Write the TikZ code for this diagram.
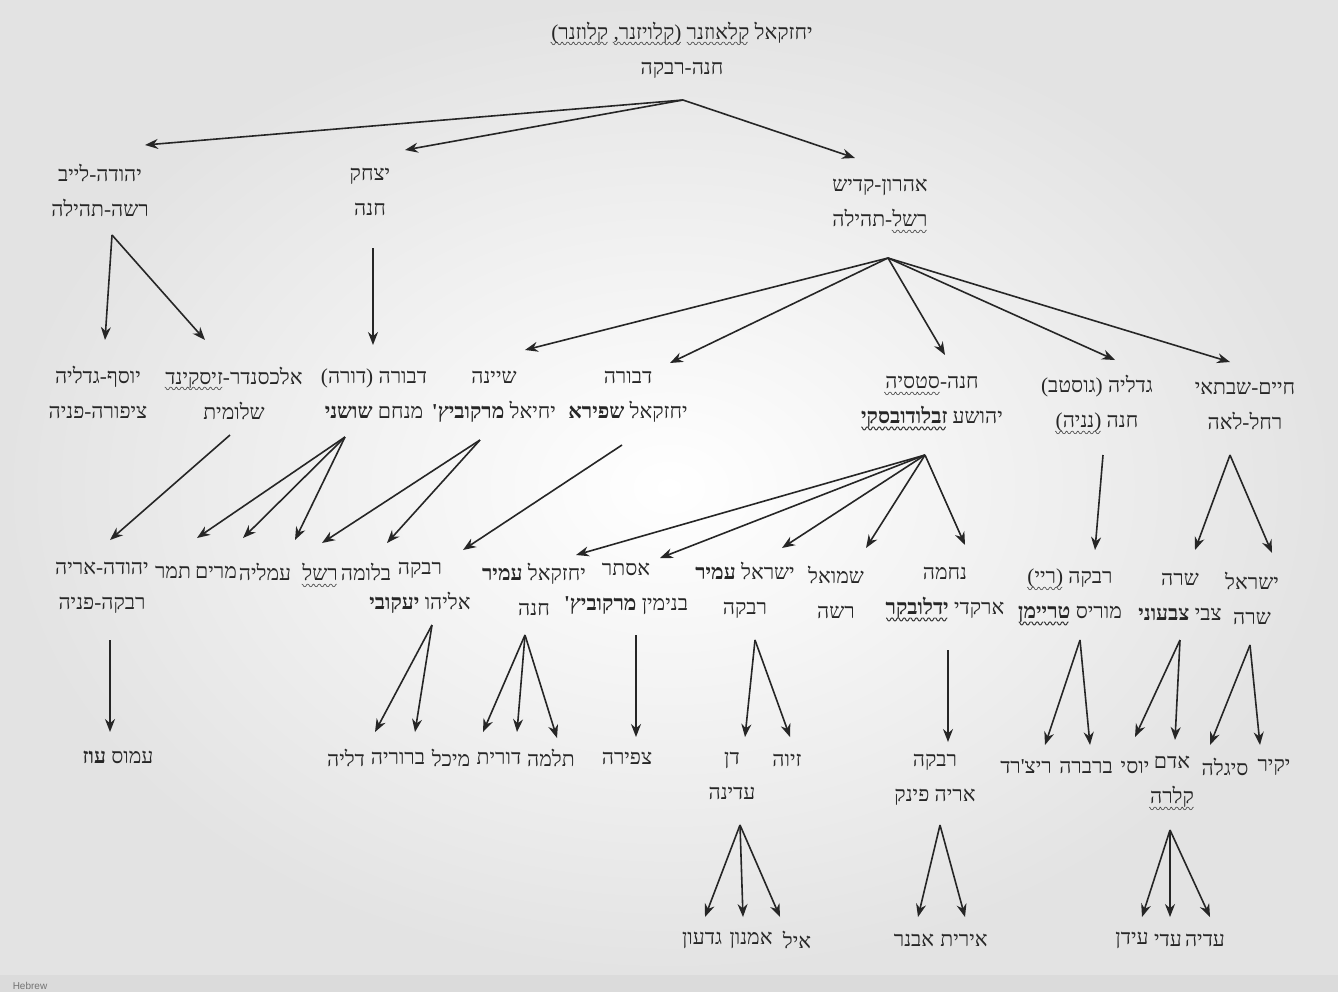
\documentclass[tikz,border=0pt]{standalone}
\usepackage{fontspec}
\usetikzlibrary{arrows.meta}
\TeXXeTstate=1
\newfontfamily\hebfont[Script=Hebrew]{Liberation Serif}
\newfontfamily\uisans{Liberation Sans}
\newfontfamily\wavefont{Noto Sans CJK SC}
\newcommand\sq[1]{\leavevmode\setbox0\hbox{#1}\setbox2\vtop{\offinterlineskip\copy0\vskip-\dp0\vskip4.9pt\hbox to\wd0{\color{red!75!black}\wavefont\fontsize{6}{6}\selectfont\xleaders\hbox{\smash{〰}\kern-0.6pt}\hfill}}\dp2=\dp0\relax\box2\relax}
\newcommand\link[4]{\draw[arr] ([shift={#2}]#1.center) -- ([shift={#4}]#3.center);}
\tikzset{
  every node/.style={font=\hebfont\fontsize{10.6}{17.5}\selectfont, align=center, inner sep=0pt, text=black!85},
  arr/.style={line width=0.8pt, black!85, -{Stealth[length=6.5pt,width=5pt]}}
}
\begin{document}
\begin{tikzpicture}[x=0.5pt,y=-0.5pt]
\useasboundingbox (0,0) rectangle (1338,992);
\fill[gray!22] (0,0) rectangle (1338,992);
\shade[inner color=white, outer color=gray!22] (0,0) rectangle (1338,975);
\fill[gray!28] (0,975) rectangle (1338,992);
\node[font=\uisans\fontsize{5}{6}\selectfont, text=black!55] (status) at (30,986) {Hebrew};

% level 0
\node (R) at (682,50) {\beginR יחזקאל \sq{קלאוזנר} \sq{(קלויזנר,} \sq{קלוזנר)}\endR\\\beginR חנה-רבקה\endR};
% level 1
\node (A) at (100,190) {\beginR יהודה-לייב\endR\\\beginR רשה-תהילה\endR};
\node (B) at (370,192) {\beginR יצחק\endR\\\beginR חנה\endR};
\node (C) at (880,203) {\beginR אהרון-קדיש\endR\\\beginR \sq{רשל}-תהילה\endR};
% level 2
\node (A1) at (98,392) {\beginR יוסף-גדליה\endR\\\beginR ציפורה-פניה\endR};
\node (A2) at (234,393) {\beginR אלכסנדר-\sq{זיסקינד}\endR\\\beginR שלומית\endR};
\node (B1) at (374,394) {\beginR דבורה (דורה)\endR\\\beginR מנחם \textbf{שושני}\endR};
\node (C1) at (494,397) {\beginR שיינה\endR\\\beginR יחיאל \textbf{מרקוביץ'}\endR};
\node (C2) at (628,397) {\beginR דבורה\endR\\\beginR יחזקאל \textbf{שפירא}\endR};
\node (C3) at (932,402) {\beginR חנה-\sq{סטסיה}\endR\\\beginR יהושע \textbf{\sq{זבלודובסקי}}\endR};
\node (C4) at (1097,404) {\beginR גדליה (גוסטב)\endR\\\beginR חנה \sq{(נניה)}\endR};
\node (C5) at (1245,406) {\beginR חיים-שבתאי\endR\\\beginR רחל-לאה\endR};
% level 3
\node (A2a) at (102,588) {\beginR יהודה-אריה\endR\\\beginR רבקה-פניה\endR};
\node (B1a) at (173,572) {\beginR תמר\endR};
\node (B1b) at (216,572) {\beginR מרים\endR};
\node (B1c) at (265,572) {\beginR עמליה\endR};
\node (C1a) at (320,572) {\beginR \sq{רשל}\endR};
\node (C1b) at (366,572) {\beginR בלומה\endR};
\node (C2a) at (420,588) {\beginR רבקה\endR\\\beginR אליהו \textbf{יעקובי}\endR};
\node (C3a) at (534,589) {\beginR יחזקאל \textbf{עמיר}\endR\\\beginR חנה\endR};
\node (C3b) at (626,589) {\beginR אסתר\endR\\\beginR בנימין \textbf{מרקוביץ'}\endR};
\node (C3c) at (745,590) {\beginR ישראל \textbf{עמיר}\endR\\\beginR רבקה\endR};
\node (C3d) at (836,592) {\beginR שמואל\endR\\\beginR רשה\endR};
\node (C3e) at (945,593) {\beginR נחמה\endR\\\beginR ארקדי \textbf{\sq{ידלובקר}}\endR};
\node (C4a) at (1070,596) {\beginR רבקה \sq{(ריי)}\endR\\\beginR מוריס \textbf{\sq{טריימן}}\endR};
\node (C5a) at (1180,597) {\beginR שרה\endR\\\beginR צבי \textbf{צבעוני}\endR};
\node (C5b) at (1252,598) {\beginR ישראל\endR\\\beginR שרה\endR};
% level 4
\node (Oz) at (118,757) {\beginR עמוס \textbf{עוז}\endR};
\node (D1) at (346,758) {\beginR דליה\endR};
\node (D2) at (398,758) {\beginR ברוריה\endR};
\node (D3) at (451,758) {\beginR מיכל\endR};
\node (D4) at (499,758) {\beginR דורית\endR};
\node (D5) at (551,758) {\beginR תלמה\endR};
\node (Ts) at (627,758) {\beginR צפירה\endR};
\node (Dan) at (732,776) {\beginR דן\endR\\\beginR עדינה\endR};
\node (Ziva) at (787,760) {\beginR זיוה\endR};
\node (Rf) at (935,780) {\beginR רבקה\endR\\\beginR אריה פינק\endR};
\node (Ri) at (1026,767) {\beginR ריצ'רד\endR};
\node (Ba) at (1086,767) {\beginR ברברה\endR};
\node (Yo) at (1135,767) {\beginR יוסי\endR};
\node (Ad) at (1172,782) {\beginR אדם\endR\\\beginR \sq{קלרה}\endR};
\node (Si) at (1225,767) {\beginR סיגלה\endR};
\node (Ya) at (1274,767) {\beginR יקיר\endR};
% level 5
\node (G1) at (702,940) {\beginR גדעון\endR};
\node (G2) at (751,940) {\beginR אמנון\endR};
\node (G3) at (797,940) {\beginR איל\endR};
\node (Av) at (914,940) {\beginR אבנר\endR};
\node (Ir) at (964,940) {\beginR אירית\endR};
\node (Id) at (1132,940) {\beginR עידן\endR};
\node (Ad1) at (1168,940) {\beginR עדי\endR};
\node (Ad2) at (1205,940) {\beginR עדיה\endR};

% connectors
\link{R}{(1,50)}{A}{(45,-45)}
\link{R}{(1,50)}{B}{(35,-42)}
\link{R}{(1,50)}{C}{(-25,-45)}
\link{A}{(12,45)}{A1}{(7,-52)}
\link{A}{(12,45)}{A2}{(-29,-53)}
\link{B}{(3,56)}{B1}{(-1,-49)}
\link{C}{(8,55)}{C1}{(31,-47)}
\link{C}{(8,55)}{C2}{(42,-34)}
\link{C}{(8,55)}{C3}{(13,-47)}
\link{C}{(8,55)}{C4}{(18,-44)}
\link{C}{(8,55)}{C5}{(-15,-44)}
\link{A2}{(-4,42)}{A2a}{(8,-48)}
\link{B1}{(-29,43)}{B1a}{(24,-34)}
\link{B1}{(-29,43)}{B1b}{(27,-34)}
\link{B1}{(-29,43)}{B1c}{(30,-32)}
\link{C1}{(-14,43)}{C1a}{(2,-29)}
\link{C1}{(-14,43)}{C1b}{(21,-29)}
\link{C2}{(-6,48)}{C2a}{(43,-38)}
\link{C3}{(-7,53)}{C3a}{(42,-34)}
\link{C3}{(-7,53)}{C3b}{(34,-31)}
\link{C3}{(-7,53)}{C3c}{(37,-42)}
\link{C3}{(-7,53)}{C3d}{(30,-44)}
\link{C3}{(-7,53)}{C3e}{(20,-48)}
\link{C4}{(6,51)}{C4a}{(25,-46)}
\link{C5}{(-15,49)}{C5a}{(15,-47)}
\link{C5}{(-15,49)}{C5b}{(20,-45)}
\link{A2a}{(8,52)}{Oz}{(-8,-25)}
\link{C2a}{(12,37)}{D1}{(29,-26)}
\link{C2a}{(12,37)}{D2}{(17,-26)}
\link{C3a}{(-9,46)}{D3}{(32,-26)}
\link{C3a}{(-9,46)}{D4}{(18,-26)}
\link{C3a}{(-9,46)}{D5}{(6,-20)}
\link{C3b}{(10,46)}{Ts}{(9,-21)}
\link{C3c}{(10,50)}{Dan}{(13,-39)}
\link{C3c}{(10,50)}{Ziva}{(3,-23)}
\link{C3e}{(3,57)}{Rf}{(13,-38)}
\link{C4a}{(10,44)}{Ri}{(19,-22)}
\link{C4a}{(10,44)}{Ba}{(4,-22)}
\link{C5a}{(0,43)}{Yo}{(0,-30)}
\link{C5a}{(0,43)}{Ad}{(3,-42)}
\link{C5b}{(-2,47)}{Si}{(-15,-22)}
\link{C5b}{(-2,47)}{Ya}{(-14,-22)}
\link{Dan}{(8,49)}{G1}{(3,-23)}
\link{Dan}{(8,49)}{G2}{(-8,-23)}
\link{Dan}{(8,49)}{G3}{(-17,-23)}
\link{Rf}{(5,45)}{Av}{(4,-23)}
\link{Rf}{(5,45)}{Ir}{(1,-23)}
\link{Ad}{(-2,48)}{Id}{(10,-23)}
\link{Ad}{(-2,48)}{Ad1}{(2,-23)}
\link{Ad}{(-2,48)}{Ad2}{(5,-23)}
\end{tikzpicture}
\end{document}
